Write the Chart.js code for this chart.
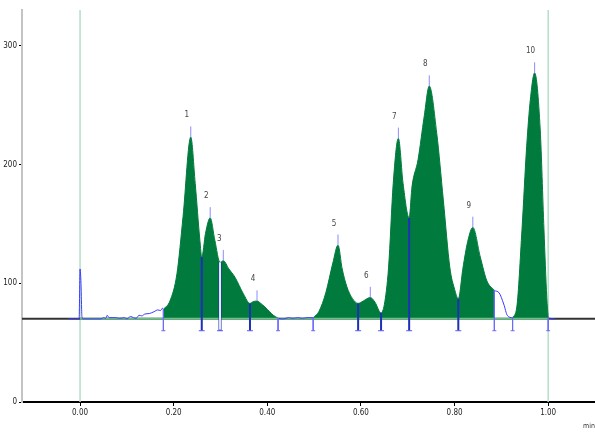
<!DOCTYPE html>
<html>
<head>
<meta charset="utf-8">
<script src="https://cdn.jsdelivr.net/npm/chart.js@4"></script>
<style>
  html, body { margin: 0; padding: 0; background: #fff; overflow: hidden; }
  #wrap { position: relative; width: 600px; height: 434px; }
  #chrom { display: block; }
</style>
</head>
<body>
<div id="wrap"><canvas id="chrom"></canvas></div>
<script>
// detector trace (time in min, signal)
var traceTime = [-0.025, -0.002, 0.000, 0.002, 0.004, 0.006, 0.045, 0.050, 0.055, 0.058, 0.062, 0.075, 0.085, 0.095, 0.100, 0.108, 0.114, 0.120, 0.126, 0.132, 0.138, 0.148, 0.158, 0.166, 0.172, 0.176,
  0.178, 0.192, 0.207, 0.220, 0.2365, 0.246, 0.256, 0.260, 0.268, 0.278, 0.288, 0.299, 0.306, 0.318, 0.331, 0.349, 0.363, 0.370, 0.378, 0.386, 0.395, 0.405, 0.413, 0.423,
  0.435, 0.445, 0.455, 0.465, 0.475, 0.485,
  0.498, 0.510, 0.525, 0.540, 0.551, 0.560, 0.570, 0.582, 0.594, 0.605, 0.620, 0.630, 0.643, 0.650, 0.659, 0.669, 0.680, 0.690, 0.703, 0.709, 0.722, 0.735, 0.746, 0.762, 0.776, 0.790, 0.800, 0.808, 0.818, 0.828, 0.839, 0.855, 0.869, 0.885,
  0.895, 0.905, 0.913,
  0.924, 0.933, 0.944, 0.954, 0.962, 0.971, 0.983, 0.991, 0.997, 1.000, 1.015];
var traceValue = [70, 70, 112, 100, 72, 70, 70, 71, 70.5, 73, 71, 71, 70.5, 71, 70, 72, 71, 70.5, 73, 72.5, 74, 74.5, 76, 77.5, 77, 79,
  78, 85, 108, 156, 223, 184, 136, 122, 142, 155, 136, 117.5, 119, 112, 105, 91, 83, 84.5, 85, 83, 80, 76, 73, 70.5,
  70, 71, 70.5, 71, 70.5, 71,
  71, 76, 92, 117, 132, 112, 97, 87, 83, 85, 88, 84, 75, 82, 113, 184, 222, 184, 155, 181, 204, 240, 266, 226, 170, 113, 95, 87, 113, 135, 147, 122, 102, 94,
  92, 82.5, 72.7,
  71, 80, 145, 215, 255, 277, 229, 145, 88, 71, 70];

// integrated windows (filled)
var fillStart = [0.178, 0.498, 0.924];
var fillEnd = [0.423, 0.885, 1.000];
var baseline = 70;

// peak start / end marks
var boundTime = [0.178, 0.423, 0.498, 0.885, 0.924, 1.000];
var boundValue = [78, 70.5, 71, 94, 71, 71];
// valley drop lines
var valleyTime = [0.260, 0.299, 0.363, 0.594, 0.643, 0.703, 0.808];
var valleyValue = [122, 117.5, 83, 83, 75, 155, 87];
var markLow = 60;

// peak apexes
var peakTime = [0.2365, 0.278, 0.306, 0.378, 0.551, 0.620, 0.680, 0.746, 0.839, 0.971];
var peakValue = [223, 155, 119, 85, 132, 88, 222, 266, 147, 277];
var peakLabel = ['1', '2', '3', '4', '5', '6', '7', '8', '9', '10'];
var apexTick = 9;

var xTicks = [0, 0.2, 0.4, 0.6, 0.8, 1.0];
var yTicks = [0, 100, 200, 300];
var xMin = -0.124, xMax = 1.1, yMax = 330;
var startMarks = [0, 1.0];

var GREEN = 'rgb(0,122,61)';
var BLUE = '#3a3aff';
var tickFont = { family: "'Liberation Sans Narrow', 'DejaVu Sans Condensed', sans-serif", size: 8 };

function inFill(t) {
  for (var i = 0; i < fillStart.length; i++) {
    if (t >= fillStart[i] && t <= fillEnd[i]) return i;
  }
  return -1;
}

function pts(ts, vs) {
  return ts.map(function(t, i) { return { x: t, y: vs[i] }; });
}

var datasets = [];

// apex ticks
peakTime.forEach(function(t, i) {
  datasets.push({ data: [{ x: t, y: peakValue[i] }, { x: t, y: peakValue[i] + apexTick }],
    borderColor: '#8c8cff', borderWidth: 1, pointRadius: 0, order: 1 });
});
// valley drops (the 2nd one is drawn hollow like in the original)
valleyTime.forEach(function(t, i) {
  datasets.push({ data: [{ x: t, y: valleyValue[i] }, { x: t, y: markLow }],
    borderColor: '#1f2fb8', borderWidth: i === 1 ? 3 : 2, pointRadius: [0, 3], pointStyle: 'line',
    pointBorderColor: '#5a5aff', pointBorderWidth: 1, order: 2 });
  if (i === 1) {
    datasets.push({ data: [{ x: t, y: valleyValue[i] }, { x: t, y: markLow + 1 }],
      borderColor: '#ffffff', borderWidth: 1, pointRadius: 0, order: 1.5 });
  }
});
// boundary marks
boundTime.forEach(function(t, i) {
  datasets.push({ data: [{ x: t, y: boundValue[i] }, { x: t, y: markLow }],
    borderColor: '#6b6bff', borderWidth: 1, pointRadius: [0, 2], pointStyle: 'line',
    pointBorderColor: '#6b6bff', pointBorderWidth: 1, order: 2 });
});

// blue raw trace, hidden where it is filled
datasets.push({
  data: pts(traceTime, traceValue),
  borderColor: BLUE, borderWidth: 1, pointRadius: 0,
  cubicInterpolationMode: 'monotone',
  segment: {
    borderColor: function(ctx) {
      var a = inFill(ctx.p0.parsed.x), b = inFill(ctx.p1.parsed.x);
      return (a >= 0 && a === b) ? 'rgba(0,0,0,0)' : BLUE;
    }
  },
  order: 3
});

// green baseline inside the run
datasets.push({ data: [{ x: startMarks[0], y: baseline }, { x: startMarks[1], y: baseline }],
  borderColor: '#6fbf8a', borderWidth: 2, pointRadius: 0, order: 4 });

// filled peaks
fillStart.forEach(function(s, k) {
  var d = [];
  traceTime.forEach(function(t, i) {
    if (t >= s && t <= fillEnd[k]) d.push({ x: t, y: traceValue[i] });
  });
  datasets.push({ data: d, borderColor: GREEN, borderWidth: 1, backgroundColor: GREEN,
    fill: { value: baseline }, pointRadius: 0, cubicInterpolationMode: 'monotone', order: 5 });
});

// black baseline
datasets.push({ data: [{ x: xMin, y: baseline }, { x: xMax, y: baseline }],
  borderColor: '#333', borderWidth: 2, pointRadius: 0, order: 6 });

// run start / end lines
startMarks.forEach(function(t) {
  datasets.push({ data: [{ x: t, y: 0 }, { x: t, y: yMax }],
    borderColor: '#b3dfc6', borderWidth: 1.5, pointRadius: 0, order: 7 });
});

var peakLabels = {
  id: 'peakLabels',
  afterDatasetsDraw: function(chart) {
    var c = chart.ctx, xs = chart.scales.x, ys = chart.scales.y;
    c.save();
    c.font = "8px 'Liberation Sans Narrow', 'DejaVu Sans Condensed', sans-serif";
    c.fillStyle = '#444';
    c.textAlign = 'center';
    c.textBaseline = 'middle';
    peakTime.forEach(function(t, i) {
      c.fillText(peakLabel[i], xs.getPixelForValue(t) - 4, ys.getPixelForValue(peakValue[i] + apexTick) - 11);
    });
    c.restore();
  }
};

var chart = new Chart(document.getElementById('chrom').getContext('2d'), {
  type: 'line',
  data: { datasets: datasets },
  plugins: [peakLabels],
  options: {
    responsive: true,
    maintainAspectRatio: false,
    animation: false,
    parsing: false,
    layout: { padding: { top: 10, right: 0, left: 0, bottom: 0 } },
    plugins: { legend: { display: false }, tooltip: { enabled: false } },
    scales: {
      x: {
        type: 'linear', min: xMin, max: xMax,
        afterFit: function(s) { s.height = 32; s.paddingLeft = 0; s.paddingRight = 0; },
        afterBuildTicks: function(s) { s.ticks = xTicks.map(function(v) { return { value: v }; }); },
        grid: { drawOnChartArea: false, drawTicks: true, tickLength: 4, color: '#000' },
        border: { display: true, color: '#000', width: 2 },
        ticks: { font: tickFont, color: '#222', padding: 2, maxRotation: 0,
          callback: function(v) { return v.toFixed(2); } },
        title: { display: true, text: 'min', align: 'end', font: { family: tickFont.family, size: 7 }, color: '#333', padding: { top: 0, bottom: 4 } }
      },
      y: {
        type: 'linear', min: 0, max: yMax,
        afterFit: function(s) { s.width = 22; },
        afterBuildTicks: function(s) { s.ticks = yTicks.map(function(v) { return { value: v }; }); },
        grid: { drawOnChartArea: false, drawTicks: true, tickLength: 3, color: '#000' },
        border: { display: true, color: '#c4c4c4', width: 2 },
        ticks: { font: tickFont, color: '#222', padding: 2 }
      }
    }
  }
});
</script>
</body>
</html>
